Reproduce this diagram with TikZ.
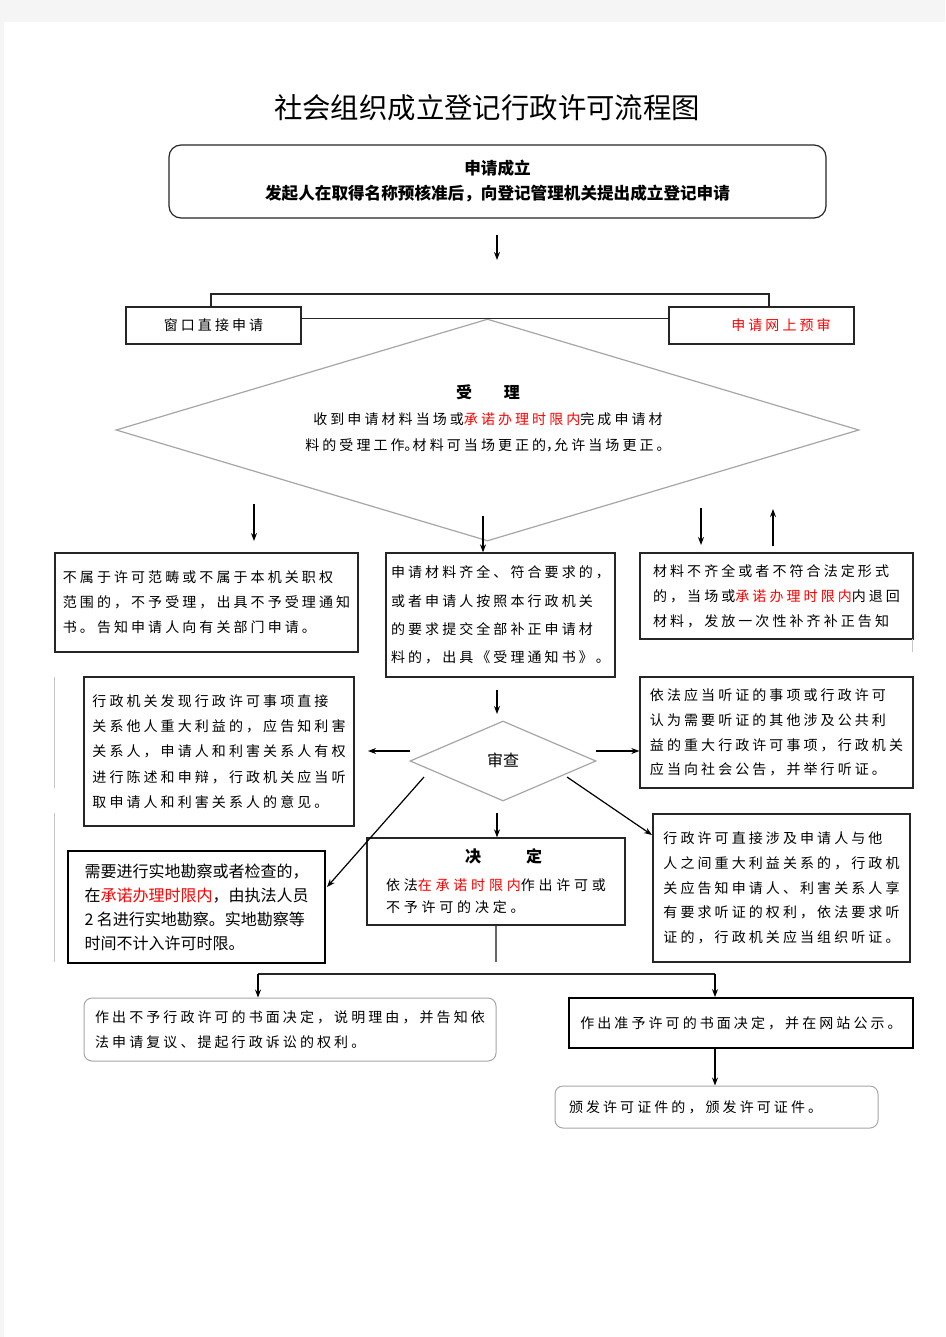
\documentclass[tikz,border=0pt]{standalone}
\usepackage{fontspec}
\usetikzlibrary{arrows.meta,shapes.geometric}
\newfontfamily\cjk{Noto Sans CJK SC}
\newfontfamily\spfont[LetterSpace=22]{Noto Sans CJK SC}
\newfontfamily\spfontb[LetterSpace=27]{Noto Sans CJK SC}
\newcommand\hpu[1]{\makebox[8pt][l]{#1}}
\newcommand\rd[1]{\textcolor{red}{#1}}
\tikzset{
  box/.style={draw=black!85, line width=1.3pt, inner sep=0pt, align=left},
  thickbox/.style={draw=black, line width=1.8pt, inner sep=0pt, align=left},
  gbox/.style={draw=black!35, line width=1pt, rounded corners=8pt, inner sep=0pt, align=left},
  arr/.style={-{Stealth[length=8pt,width=6pt]}, line width=1.2pt, black},
  plain/.style={line width=1.1pt, black!85},
  sp/.style={font=\spfont\fontsize{14}{#1}\selectfont},
  artifact/.style={black!22, line width=1pt}
}
\begin{document}
\begin{tikzpicture}[x=1pt,y=-1pt]
\useasboundingbox (0,0) rectangle (945,1337);
\fill[black!4] (0,0) rectangle (945,1337);
\fill[white] (4,22) rectangle (945,1337);

% title
\node[font=\cjk\fontsize{28.4}{30}\selectfont] (title) at (487,108) {社会组织成立登记行政许可流程图};

% top box
\node[draw=black!85, line width=1.2pt, rounded corners=12pt, minimum width=657pt, minimum height=73pt,
      inner sep=0pt, align=center, font=\cjk\bfseries\fontsize{16.6}{25}\selectfont]
  (top) at (497.5,181.5) {申请成立\\发起人在取得名称预核准后，向登记管理机关提出成立登记申请};
\coordinate (t1) at (497,235);
\coordinate (t2) at (497,260);
\draw[arr] (t1) -- (t2);

% two application boxes
\node[box, minimum width=175pt, minimum height=37pt, sp=16] (win) at (213.5,325.5) {窗口直接申请};
\node[box, minimum width=185pt, minimum height=37pt, sp=16] (net) at (761.5,325.5) {\hspace*{39pt}\rd{申请网上预审}};
\coordinate (br1) at (211,294);
\coordinate (br2) at (769,294);
\draw[plain] (win.north -| br1) -- (br1) -- (br2) -- (net.north -| br2);

% acceptance diamond
\node[diamond, draw=black!35, line width=1.2pt, minimum width=743pt, minimum height=222pt, inner sep=0pt]
  (acc) at (487.5,430) {};
\draw[plain] (win.east |- acc.north) -- (net.west |- acc.north);
\node[align=center, inner sep=0pt, sp=26] (acct) at (488,418)
  {{\cjk\bfseries\fontsize{16}{26}\selectfont 受\hspace{32pt}理}\\
   收到申请材料当场或\rd{承诺办理时限内}完成申请材\\
   料的受理工作\hpu{。}材料可当场更正的\hpu{，}允许当场更正。};

% row 3
\node[box, minimum width=303pt, minimum height=99pt, sp=25] (nA) at (206.5,602.5)
  {不属于许可范畴或不属于本机关职权\\范围的，不予受理，出具不予受理通知\\书。告知申请人向有关部门申请。};
\node[box, minimum width=229pt, minimum height=124pt, sp=28.4] (nB) at (500.5,615)
  {申请材料齐全、符合要求的，\\或者申请人按照本行政机关\\的要求提交全部补正申请材\\料的，出具《受理通知书》。};
\node[box, minimum width=273pt, minimum height=86pt, sp=25] (nC) at (776.5,596)
  {材料不齐全或者不符合法定形式\\的，当场或\rd{承诺办理时限内}内退回\\材料，发放一次性补齐补正告知};

\coordinate (d1s) at (254,504);
\coordinate (d1e) at (254,541);
\draw[arr] (d1s) -- (d1e);
\coordinate (d2s) at (483,516);
\draw[arr] (d2s) -- (d2s |- nB.north);
\coordinate (d3s) at (701,508);
\coordinate (d3e) at (701,545);
\draw[arr] (d3s) -- (d3e);
\coordinate (d4s) at (773,546);
\coordinate (d4e) at (773,509);
\draw[arr] (d4s) -- (d4e);

% row 4
\node[box, minimum width=270pt, minimum height=149pt, sp=25.2] (nD) at (219,751.5)
  {行政机关发现行政许可事项直接\\关系他人重大利益的，应告知利害\\关系人，申请人和利害关系人有权\\进行陈述和申辩，行政机关应当听\\取申请人和利害关系人的意见。};
\node[diamond, draw=black!35, line width=1.2pt, minimum width=186pt, minimum height=80pt, inner sep=0pt,
      font=\cjk\fontsize{16}{18}\selectfont] (rev) at (503,761) {\raisebox{3pt}{审查}};
\node[box, minimum width=273pt, minimum height=111pt, sp=24.7] (nE) at (776.5,732.5)
  {依法应当听证的事项或行政许可\\认为需要听证的其他涉及公共利\\益的重大行政许可事项，行政机关\\应当向社会公告，并举行听证。};

\coordinate (e1s) at (497,690);
\coordinate (e1e) at (497,714);
\draw[arr] (e1s) -- (e1e);
\coordinate (l1s) at (410,751);
\coordinate (l1e) at (368,751);
\draw[arr] (l1s) -- (l1e);
\coordinate (r1s) at (596,751);
\draw[arr] (r1s) -- (nE.west |- r1s);

% row 5
\node[thickbox, minimum width=257pt, minimum height=112pt, font=\cjk\fontsize{16}{24}\selectfont] (nF) at (196.5,907)
  {需要进行实地勘察或者检查的，\\在\rd{承诺办理时限内}，由执法人员\\2 名进行实地勘察。实地勘察等\\时间不计入许可时限。};
\node[box, minimum width=258pt, minimum height=87pt, font=\spfontb\fontsize{14}{22}\selectfont] (nH) at (496,881.5)
  {\hspace*{79pt}{\cjk\bfseries\fontsize{16}{22}\selectfont 决\hspace{45pt}定}\\[6pt]
   依法\rd{在承诺时限内}作出许可或\\不予许可的决定。};
\node[box, minimum width=257pt, minimum height=148pt, sp=24.75] (nG) at (781.5,888)
  {行政许可直接涉及申请人与他\\人之间重大利益关系的，行政机\\关应告知申请人、利害关系人享\\有要求听证的权利，依法要求听\\证的，行政机关应当组织听证。};

\coordinate (dls) at (424,777);
\coordinate (dle) at (327,887);
\draw[arr] (dls) -- (dle);
\coordinate (drs) at (567,777);
\coordinate (dre) at (652,835);
\draw[arr] (drs) -- (dre);
\coordinate (c5) at (497,813);
\draw[arr] (c5) -- (c5 |- nH.north);
\coordinate (hd) at (496,962);
\draw[black!60, line width=1.2pt] (nH.south -| hd) -- (hd);

% row 6
\node[gbox, minimum width=412pt, minimum height=63pt, sp=25] (nI) at (290,1029.5)
  {作出不予行政许可的书面决定，说明理由，并告知依\\法申请复议、提起行政诉讼的权利。};
\node[thickbox, minimum width=344pt, minimum height=50pt, sp=25] (nJ) at (741,1023)
  {作出准予许可的书面决定，并在网站公示。};
\node[gbox, text width=295pt, inner xsep=14pt, minimum height=42pt, sp=25] (nK) at (716.5,1107)
  {颁发许可证件的，颁发许可证件。};

\coordinate (h1) at (258,974);
\coordinate (h2) at (715,974);
\draw[plain] (h1) -- (h2);
\draw[arr] (h1) -- (h1 |- nI.north);
\draw[arr] (h2) -- (h2 |- nJ.north);
\draw[arr] (nJ.south -| h2) -- (h2 |- nK.north);

% faint edge lines
\draw[artifact] (54,677) -- (54,788);
\draw[artifact] (54,813) -- (54,962);
\draw[artifact] (912,639) -- (912,652);
\end{tikzpicture}
\end{document}
